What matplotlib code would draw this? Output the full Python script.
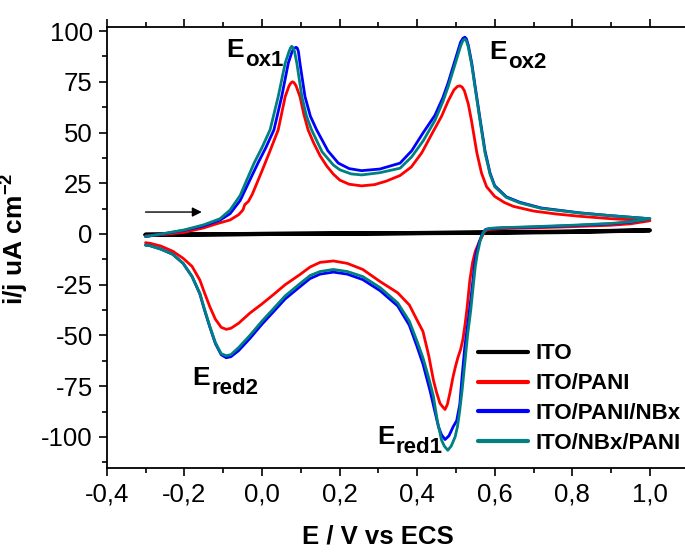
import matplotlib
matplotlib.use("Agg")
import matplotlib.pyplot as plt
import numpy as np

plt.rcParams['font.family'] = ['Liberation Sans', 'DejaVu Sans']
plt.rcParams['mathtext.fontset'] = 'custom'
plt.rcParams['mathtext.rm'] = 'Liberation Sans'
plt.rcParams['mathtext.bf'] = 'Liberation Sans:bold'
plt.rcParams['mathtext.it'] = 'Liberation Sans:italic'

# ---------------- data ----------------
labels = ['ITO', 'ITO/PANI', 'ITO/PANI/NBx', 'ITO/NBx/PANI']
colors = ['#000000', '#ff0000', '#0000ff', '#008080']

ito_fwd_E = [-0.30, 0.00, 0.30, 0.60, 0.80, 1.00]
ito_fwd_i = [-0.3, 0.0, 0.3, 0.6, 1.0, 1.8]
ito_rev_E = [1.00, 0.80, 0.60, 0.30, 0.00, -0.30]
ito_rev_i = [1.8, 1.2, 0.8, 0.3, 0.0, -0.5]

pani_fwd_E = [-0.300, -0.250, -0.200, -0.150, -0.117, -0.082, -0.060, -0.049, -0.044, -0.035,
              -0.025, -0.013, 0.000, 0.020, 0.042, 0.060, 0.070, 0.075, 0.079, 0.083,
              0.088, 0.098, 0.108, 0.119, 0.133, 0.150, 0.167, 0.184, 0.201, 0.225,
              0.257, 0.290, 0.320, 0.356, 0.385, 0.412, 0.440, 0.463, 0.480, 0.495,
              0.504, 0.510, 0.516, 0.522, 0.532, 0.540, 0.554, 0.566, 0.579, 0.600,
              0.625, 0.648, 0.700, 0.760, 0.820, 0.900, 1.000]
pani_fwd_i = [-1.0, -0.2, 0.8, 3.0, 5.0, 6.9, 9.5, 11.8, 14.5, 16.0,
              19.5, 25.0, 31.0, 40.5, 51.3, 67.7, 73.0, 74.5, 75.0, 74.5,
              73.0, 67.7, 59.0, 51.3, 45.0, 38.5, 33.5, 29.5, 26.5, 24.5,
              23.7, 24.3, 26.0, 28.8, 33.0, 40.0, 50.0, 58.0, 65.5, 71.0,
              72.7, 73.0, 72.4, 70.5, 64.0, 56.0, 40.0, 30.0, 23.3, 18.5,
              15.5, 13.6, 11.3, 9.8, 8.7, 7.5, 6.5]
pani_rev_E = [1.000, 0.950, 0.900, 0.800, 0.700, 0.620, 0.585, 0.575, 0.568, 0.560,
              0.550, 0.543, 0.536, 0.529, 0.524, 0.518, 0.512, 0.505, 0.498, 0.492,
              0.485, 0.478, 0.472, 0.465, 0.459, 0.450, 0.442, 0.430, 0.415, 0.400,
              0.380, 0.350, 0.305, 0.260, 0.220, 0.184, 0.150, 0.124, 0.098, 0.060,
              0.029, 0.000, -0.031, -0.060, -0.080, -0.092, -0.105, -0.120, -0.134, -0.148,
              -0.160, -0.180, -0.203, -0.230, -0.260, -0.288, -0.300]
pani_rev_i = [6.5, 5.0, 4.3, 3.6, 3.0, 2.6, 2.2, 1.5, -1.0, -4.0,
              -8.5, -14.0, -22.7, -36.0, -44.0, -52.0, -57.0, -61.0, -66.0, -71.0,
              -78.0, -84.0, -86.5, -85.0, -83.5, -78.0, -72.0, -60.0, -48.0, -42.5,
              -35.0, -29.0, -23.5, -17.5, -14.5, -13.3, -14.0, -16.3, -20.0, -25.0,
              -30.0, -34.5, -39.0, -44.0, -46.5, -47.0, -46.0, -42.0, -36.0, -29.0,
              -22.7, -16.0, -12.0, -8.5, -6.0, -4.6, -4.3]

pnb_fwd_E = [-0.300, -0.250, -0.200, -0.150, -0.108, -0.082, -0.056, -0.031, -0.010, 0.010,
             0.031, 0.051, 0.068, 0.078, 0.084, 0.088, 0.091, 0.094, 0.098, 0.111,
             0.125, 0.141, 0.170, 0.197, 0.225, 0.257, 0.304, 0.356, 0.386, 0.416,
             0.446, 0.466, 0.480, 0.500, 0.512, 0.518, 0.523, 0.527, 0.532, 0.541,
             0.549, 0.562, 0.575, 0.588, 0.600, 0.630, 0.665, 0.720, 0.820, 0.900,
             1.000]
pnb_fwd_i = [-1.3, 0.2, 1.8, 4.0, 6.8, 10.0, 16.5, 26.6, 35.0, 42.5,
             51.3, 67.7, 84.2, 90.0, 91.6, 92.0, 91.6, 90.0, 84.2, 67.7,
             58.0, 51.3, 41.0, 34.9, 32.2, 31.2, 32.0, 34.9, 41.0, 50.0,
             58.5, 67.0, 74.5, 87.0, 94.5, 96.4, 97.0, 96.2, 93.0, 84.0,
             73.5, 57.0, 41.0, 30.0, 23.8, 18.3, 15.6, 12.8, 10.4, 9.0,
             7.5]
pnb_rev_E = [1.000, 0.950, 0.900, 0.800, 0.700, 0.620, 0.590, 0.576, 0.568, 0.561,
             0.553, 0.548, 0.545, 0.538, 0.530, 0.523, 0.516, 0.510, 0.502, 0.493,
             0.482, 0.472, 0.463, 0.455, 0.444, 0.433, 0.415, 0.400, 0.380, 0.350,
             0.305, 0.260, 0.220, 0.184, 0.150, 0.124, 0.098, 0.060, 0.029, 0.000,
             -0.031, -0.060, -0.080, -0.092, -0.105, -0.120, -0.134, -0.148, -0.160, -0.180,
             -0.203, -0.230, -0.260, -0.288, -0.300]
pnb_rev_i = [7.5, 5.8, 5.0, 4.1, 3.4, 3.0, 2.7, 2.2, 0.0, -3.5,
             -9.0, -15.0, -21.0, -33.0, -45.0, -55.6, -70.0, -84.0, -92.0, -95.0,
             -99.5, -101.3, -99.0, -95.0, -86.0, -77.0, -64.0, -55.6, -45.0, -35.5,
             -28.0, -22.5, -19.8, -18.8, -19.8, -22.0, -26.0, -32.0, -38.5, -44.5,
             -51.5, -57.5, -60.5, -61.0, -59.5, -54.0, -46.0, -37.5, -29.5, -21.0,
             -14.5, -10.0, -7.5, -5.8, -5.5]

nbp_fwd_E = [-0.300, -0.250, -0.200, -0.150, -0.108, -0.082, -0.056, -0.039, -0.020, 0.000,
             0.021, 0.042, 0.060, 0.070, 0.074, 0.077, 0.080, 0.084, 0.090, 0.103,
             0.115, 0.128, 0.155, 0.184, 0.201, 0.230, 0.257, 0.304, 0.356, 0.386,
             0.416, 0.446, 0.466, 0.480, 0.500, 0.512, 0.518, 0.523, 0.527, 0.532,
             0.541, 0.549, 0.562, 0.575, 0.588, 0.600, 0.630, 0.665, 0.720, 0.820,
             0.900, 1.000]
nbp_fwd_i = [-1.3, 0.3, 2.0, 4.5, 7.5, 11.8, 19.0, 26.6, 35.0, 42.5,
             51.3, 67.7, 84.2, 90.0, 91.8, 92.5, 91.8, 90.0, 84.2, 67.7,
             58.0, 51.3, 40.5, 34.0, 31.6, 29.6, 29.1, 30.2, 32.4, 38.0,
             46.0, 56.0, 65.0, 72.6, 85.0, 92.5, 95.3, 96.0, 95.2, 92.0,
             83.0, 72.6, 56.0, 40.0, 29.5, 23.3, 18.0, 15.3, 12.6, 10.3,
             9.0, 7.5]
nbp_rev_E = [1.000, 0.950, 0.900, 0.800, 0.700, 0.620, 0.590, 0.578, 0.570, 0.563,
             0.555, 0.550, 0.545, 0.538, 0.530, 0.523, 0.516, 0.510, 0.504, 0.498,
             0.488, 0.479, 0.470, 0.463, 0.452, 0.442, 0.430, 0.415, 0.400, 0.380,
             0.350, 0.305, 0.260, 0.220, 0.184, 0.150, 0.124, 0.098, 0.060, 0.029,
             0.000, -0.031, -0.060, -0.080, -0.092, -0.105, -0.120, -0.134, -0.148, -0.160,
             -0.180, -0.203, -0.230, -0.260, -0.288, -0.300]
nbp_rev_i = [7.5, 6.0, 5.2, 4.3, 3.6, 3.1, 2.8, 2.3, 0.5, -3.0,
             -10.0, -16.0, -25.0, -38.0, -50.0, -63.7, -77.0, -86.8, -95.0, -100.0,
             -104.5, -106.6, -104.5, -101.6, -92.0, -80.0, -71.0, -61.0, -53.0, -43.0,
             -34.0, -26.5, -21.0, -18.5, -17.5, -18.5, -20.5, -24.5, -30.5, -37.0,
             -43.0, -50.0, -56.0, -59.5, -60.0, -59.0, -53.5, -45.7, -37.0, -29.3,
             -21.0, -14.5, -10.0, -7.5, -5.8, -5.5]

x_ticks = [-0.4, -0.2, 0.0, 0.2, 0.4, 0.6, 0.8, 1.0]
x_ticklabels = ['-0,4', '-0,2', '0,0', '0,2', '0,4', '0,6', '0,8', '1,0']
y_ticks = [-100, -75, -50, -25, 0, 25, 50, 75, 100]
y_ticklabels = ['-100', '-75', '-50', '-25', '0', '25', '50', '75', '100']

peak_main = ['E', 'E', 'E', 'E']
peak_sub = ['ox1', 'ox2', 'red2', 'red1']
peak_label_E = [-0.046, 0.632, -0.133, 0.343]
peak_label_i = [87.3, 86.3, -74.5, -103.6]

# ---------------- figure ----------------
fig = plt.figure(figsize=(6.85, 5.52), dpi=100)
ax = fig.add_axes([0.1558, 0.1516, 0.8496, 0.7995])

series = [
    (ito_fwd_E + ito_rev_E, ito_fwd_i + ito_rev_i, 3.0),
    (pani_fwd_E + pani_rev_E, pani_fwd_i + pani_rev_i, 2.0),
    (pnb_fwd_E + pnb_rev_E, pnb_fwd_i + pnb_rev_i, 2.0),
    (nbp_fwd_E + nbp_rev_E, nbp_fwd_i + nbp_rev_i, 2.0),
]
for (E, I, lw), lab, col in zip(series, labels, colors):
    ax.plot(E, I, color=col, lw=lw, label=lab, solid_joinstyle='round',
            solid_capstyle='round')

ax.set_xlim(-0.4, 1.1)
ax.set_ylim(-115.5, 102)

ax.set_xticks(x_ticks)
ax.set_xticklabels(x_ticklabels)
ax.set_yticks(y_ticks)
ax.set_yticklabels(y_ticklabels)
ax.set_xticks(np.arange(-0.3, 1.1, 0.2), minor=True)
ax.set_yticks(np.arange(-112.5, 100, 25), minor=True)

ax.tick_params(axis='both', which='major', direction='out', length=6, width=1.2,
               labelsize=18.5, pad=4)
ax.tick_params(axis='both', which='minor', direction='out', length=3.5, width=1.2)
ax.tick_params(axis='x', which='both', top=True)
ax.spines['right'].set_visible(False)
for s in ['left', 'bottom', 'top']:
    ax.spines[s].set_linewidth(1.3)

ax.set_xlabel('E / V vs ECS', fontsize=18.5, fontweight='bold')
ax.xaxis.set_label_coords(0.4667, -0.128)
ax.set_ylabel(r'i/j uA cm$^{\mathbf{-2}}$', fontsize=19, fontweight='bold')
ax.yaxis.set_label_coords(-0.13, 0.52)

for m, s, e, i in zip(peak_main, peak_sub, peak_label_E, peak_label_i):
    ax.annotate(m, xy=(e, i), xycoords='data', ha='right', va='baseline',
                fontsize=19, fontweight='bold')
    ax.annotate(s, xy=(e, i), xycoords='data', xytext=(0.5, -6.5),
                textcoords='offset points', ha='left', va='baseline',
                fontsize=16, fontweight='bold')

ax.annotate('', xy=(-0.155, 10.8), xytext=(-0.30, 10.8),
            arrowprops=dict(arrowstyle='-|>', color='black', lw=1.0,
                            mutation_scale=14, shrinkA=0, shrinkB=0))

leg = ax.legend(loc='upper left', bbox_to_anchor=(0.638, 0.283), frameon=False,
                prop={'size': 16, 'weight': 'bold'}, handlelength=2.25,
                handletextpad=0.32, labelspacing=0.4, borderpad=0, borderaxespad=0)
for h in leg.get_lines():
    h.set_linewidth(3.0)

fig.savefig('out.png', dpi=100)
